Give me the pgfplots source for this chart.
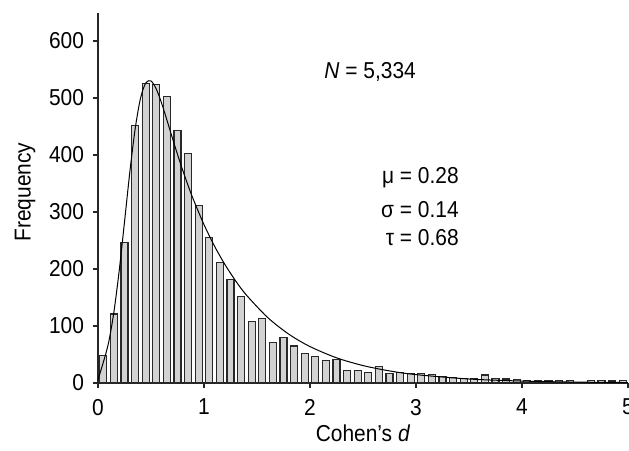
\documentclass[border=0pt]{standalone}
\usepackage{fontspec}
\setmainfont{Liberation Sans}[FakeStretch=0.91]
\usepackage{pgfplots}
\pgfplotsset{compat=1.18}
\definecolor{barfill}{RGB}{210,210,210}
\definecolor{baredge}{RGB}{40,40,40}

\begin{document}
\begin{tikzpicture}
\begin{axis}[
  scale only axis,
  width=265pt, height=185.25pt,
  xmin=0, xmax=5, ymin=0, ymax=650,
  axis lines*=left,
  axis line style={line width=0.6pt, black!85},
  tick align=outside,
  major tick length=2.5pt,
  tick style={black!85, line width=0.6pt},
  xtick={0,1,2,3,4,5},
  ytick={0,100,...,600},
  font=\fontsize{11.5}{13}\selectfont,
  /pgf/number format/assume math mode=true,
  xticklabel style={yshift=-2pt},
  yticklabel style={xshift=-1pt},
  xlabel={Cohen’s \textit{d}},
  ylabel={Frequency},
  every axis x label/.style={at={(axis description cs:0.5,0)}, anchor=center, yshift=-25pt},
  every axis y label/.style={at={(axis description cs:0,0.515)}, anchor=center, rotate=90, yshift=36.5pt},
  clip=false,
]
\addplot[ybar, bar width=0.066, fill=barfill, draw=baredge, line width=0.55pt]
  coordinates {
  (0.05,49) (0.15,121) (0.25,247) (0.35,452) (0.45,526) (0.55,523) (0.65,503)
  (0.75,443) (0.85,403) (0.95,312) (1.05,256) (1.15,212) (1.25,181) (1.35,152)
  (1.45,108) (1.55,113) (1.65,71) (1.75,80) (1.85,65) (1.95,52) (2.05,46)
  (2.15,40) (2.25,41) (2.35,22) (2.45,22) (2.55,19) (2.65,29) (2.75,17)
  (2.85,18) (2.95,17) (3.05,17) (3.15,15) (3.25,11) (3.35,10) (3.45,8)
  (3.55,8) (3.65,14) (3.75,8) (3.85,7) (3.95,6) (4.05,5) (4.15,4) (4.25,5)
  (4.35,4) (4.45,4) (4.55,1.5) (4.65,4) (4.75,4) (4.85,3.5) (4.95,4)
  };
% ex-Gaussian fit, values
\addplot[smooth, black, line width=0.5pt]
  coordinates {
  (0,6) (0.05,36.2) (0.1,70.9) (0.15,124.5) (0.2,196.9) (0.25,282.4)
  (0.3,369.5) (0.35,445.1) (0.4,498.6) (0.45,526.3) (0.5,529.9) (0.55,515.7)
  (0.6,491.0) (0.65,461.5) (0.7,430.9) (0.75,401.1) (0.8,372.9) (0.85,346.5)
  (0.9,321.9) (1.0,277.9) (1.1,239.9) (1.2,207.1) (1.3,178.8) (1.4,154.3)
  (1.6,115.0) (1.8,85.7) (2.0,63.9) (2.25,44.2) (2.5,30.6) (2.75,21.2)
  (3.0,14.7) (3.5,7.0) (4.0,3.4) (4.5,1.6) (5.0,0.8)
  };
\node[anchor=west] at (axis cs:2.07,546) {\textit{N} = 5,334};
\node[anchor=east] at (axis cs:3.47,360) {μ = 0.28};
\node[anchor=east] at (axis cs:3.47,305) {σ = 0.14};
\node[anchor=east] at (axis cs:3.47,256) {τ = 0.68};
\coordinate (o) at (axis cs:0,0);
\end{axis}
\pgfresetboundingbox
\path[use as bounding box] ([shift={(-49pt,-34pt)}]o) rectangle ([shift={(265.5pt,191.5pt)}]o);
\end{tikzpicture}
\end{document}
